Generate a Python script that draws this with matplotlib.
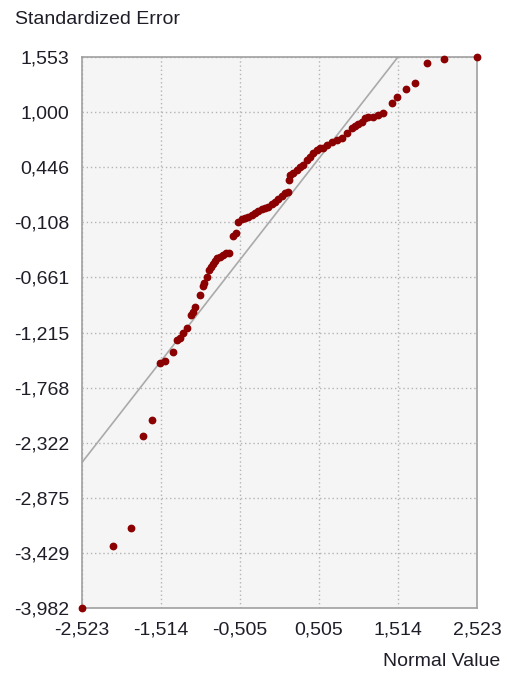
import numpy as np
import matplotlib
matplotlib.use('Agg')
import matplotlib.pyplot as plt

plt.rcParams['font.family'] = ['Liberation Sans', 'DejaVu Sans']

# normal QQ plot: theoretical (normal) value vs standardized error
normal_value = [-2.523, -2.127, -1.897, -1.744, -1.629, -1.527, -1.463, -1.360, -1.309, -1.271,
                -1.233, -1.182, -1.131, -1.105, -1.080, -1.016, -0.977, -0.965, -0.926, -0.901,
                -0.875, -0.850, -0.824, -0.798, -0.760, -0.722, -0.683, -0.645, -0.594, -0.556,
                -0.530, -0.479, -0.441, -0.402, -0.351, -0.313, -0.275, -0.224, -0.185, -0.147,
                -0.096, -0.057, -0.019, 0.032, 0.070, 0.109, 0.121, 0.134, 0.172, 0.224,
                0.262, 0.300, 0.351, 0.390, 0.428, 0.479, 0.517, 0.556, 0.607, 0.671,
                0.735, 0.798, 0.862, 0.926, 0.965, 1.003, 1.054, 1.092, 1.131, 1.194,
                1.258, 1.322, 1.437, 1.501, 1.616, 1.731, 1.884, 2.101, 2.523]
std_error = [-3.982, -3.359, -3.178, -2.254, -2.093, -1.521, -1.501, -1.410, -1.290, -1.270,
             -1.219, -1.169, -1.039, -1.009, -0.958, -0.838, -0.747, -0.717, -0.657, -0.587,
             -0.556, -0.526, -0.496, -0.466, -0.456, -0.436, -0.416, -0.416, -0.245, -0.215,
             -0.104, -0.074, -0.064, -0.054, -0.034, -0.014, 0.006, 0.026, 0.036, 0.046,
             0.076, 0.096, 0.127, 0.157, 0.187, 0.197, 0.317, 0.368, 0.388, 0.418,
             0.448, 0.468, 0.518, 0.548, 0.589, 0.619, 0.639, 0.639, 0.669, 0.699,
             0.719, 0.739, 0.790, 0.840, 0.860, 0.880, 0.900, 0.940, 0.950, 0.950,
             0.970, 0.990, 1.091, 1.151, 1.232, 1.292, 1.493, 1.533, 1.553]

ref_x = [-2.523, 1.514]
ref_y = [-2.52, 1.553]

x_ticks = [-2.523, -1.514, -0.505, 0.505, 1.514, 2.523]
y_ticks = [1.553, 1.000, 0.446, -0.108, -0.661, -1.215, -1.768, -2.322, -2.875, -3.429, -3.982]

txt_col = '#1e1e28'

fig = plt.figure(figsize=(5.07, 6.73), dpi=100)
ax = fig.add_axes([0.1617, 0.0966, 0.779, 0.8187])
ax.set_facecolor('#f5f5f5')

ax.plot(ref_x, ref_y, color='#aaaaaa', lw=1.2, zorder=2)
ax.plot(normal_value, std_error, 'o', color='#8b0000', ms=4.6, mec='#8b0000',
        clip_on=False, zorder=3)

ax.set_xlim(x_ticks[0], x_ticks[-1])
ax.set_ylim(y_ticks[-1], y_ticks[0])
ax.set_xticks(x_ticks)
ax.set_yticks(y_ticks)
ax.set_xticklabels([f'{v:.3f}'.replace('.', ',') for v in x_ticks])
ax.set_yticklabels([f'{v:.3f}'.replace('.', ',') for v in y_ticks])
ax.tick_params(length=0, labelsize=14, colors=txt_col, pad=9)
ax.tick_params(axis='x', pad=10)

ax.grid(True, ls=(0, (1, 2)), color='#b4b4b4', lw=1.0)
ax.set_axisbelow(True)
for s in ax.spines.values():
    s.set_color('#a0a0a0')
    s.set_linewidth(1.2)

fig.text(15 / 507, 1 - 19 / 673, 'Standardized Error', fontsize=14, color=txt_col,
         ha='left', va='center')
fig.text(500 / 507, 1 - 661 / 673, 'Normal Value', fontsize=14, color=txt_col,
         ha='right', va='center')

fig.savefig('out.png', dpi=100)
